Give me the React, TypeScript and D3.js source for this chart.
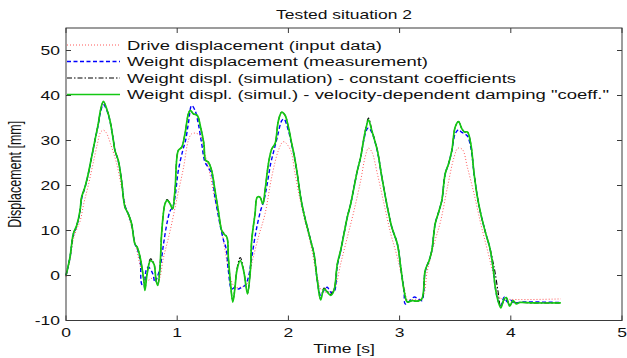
import React from "react";
import * as d3 from "d3";

const W = 627;
const H = 358;

const xTicks = [0, 1, 2, 3, 4, 5];
const yTicks = [-10, 0, 10, 20, 30, 40, 50];
const titleText = "Tested situation 2";
const xLabel = "Time [s]";
const yLabel = "Displacement [mm]";
const legendLabels = [
  "Drive displacement (input data)",
  "Weight displacement (measurement)",
  "Weight displ. (simulation) - constant coefficients",
  "Weight displ. (simul.) - velocity-dependent damping \"coeff.\"",
];

// Drive displacement (input data)
const redT = [0, 0.036, 0.066, 0.1, 0.126, 0.16, 0.2, 0.24, 0.28, 0.31, 0.335, 0.36, 0.4, 0.456, 0.5, 0.547, 0.59, 0.637, 0.68, 0.727, 0.76, 0.787, 0.83, 0.877, 0.937, 1.0, 1.057, 1.1, 1.13, 1.17, 1.21, 1.25, 1.3, 1.34, 1.39, 1.43, 1.477, 1.52, 1.57, 1.63, 1.67, 1.73, 1.79, 1.85, 1.91, 1.95, 1.97, 2.02, 2.06, 2.1, 2.14, 2.2, 2.26, 2.3, 2.38, 2.42, 2.47, 2.53, 2.59, 2.65, 2.69, 2.72, 2.75, 2.8, 2.86, 2.92, 2.98, 3.04, 3.07, 3.1, 3.2, 3.25, 3.31, 3.37, 3.43, 3.49, 3.525, 3.565, 3.61, 3.67, 3.73, 3.79, 3.85, 3.895, 3.94, 4.45];
const redV = [-0.3, 3.5, 8.0, 10.5, 12, 16, 20, 24.5, 29, 31.8, 32.3, 31.8, 29.3, 24.8, 19.6, 14.4, 10.7, 5.6, 1.1, -1.1, -0.8, -0.4, -1.1, 4, 10, 17.4, 24, 30, 31.5, 31.6, 31.0, 27, 21.9, 16.7, 11.5, 5.6, -0.4, -2.6, -2.6, -1.9, 2.6, 8.5, 13.7, 21.9, 27.8, 29.7, 29.6, 27.8, 22.6, 17.4, 13, 7, -0.4, -3.3, -3.7, -2.6, 2.6, 8.5, 14.4, 21.1, 26.3, 28.3, 27.5, 22.6, 15.9, 9.3, 4, -2.6, -5.4, -5.4, -5.0, 1.1, 7, 12.2, 19.6, 26.3, 28.3, 28.0, 24, 18.1, 11.5, 5.6, -0.4, -4.8, -5.2, -5.2];

// Weight displacement (measurement)
const blueT = [0, 0.036, 0.066, 0.096, 0.126, 0.14, 0.17, 0.2, 0.23, 0.26, 0.29, 0.31, 0.336, 0.366, 0.396, 0.426, 0.44, 0.47, 0.5, 0.53, 0.56, 0.59, 0.62, 0.64, 0.667, 0.68, 0.7, 0.72, 0.74, 0.78, 0.8, 0.82, 0.847, 0.877, 0.907, 0.937, 0.96, 0.98, 1.01, 1.05, 1.075, 1.1, 1.13, 1.16, 1.19, 1.22, 1.25, 1.28, 1.31, 1.34, 1.39, 1.417, 1.44, 1.46, 1.49, 1.52, 1.55, 1.58, 1.61, 1.64, 1.67, 1.71, 1.75, 1.78, 1.81, 1.84, 1.87, 1.9, 1.94, 1.96, 2.0, 2.03, 2.05, 2.08, 2.11, 2.14, 2.17, 2.2, 2.23, 2.26, 2.29, 2.32, 2.35, 2.38, 2.41, 2.44, 2.47, 2.5, 2.53, 2.56, 2.59, 2.62, 2.65, 2.68, 2.7, 2.72, 2.75, 2.8, 2.84, 2.89, 2.93, 2.98, 3.01, 3.04, 3.05, 3.08, 3.13, 3.17, 3.2, 3.23, 3.265, 3.29, 3.32, 3.355, 3.38, 3.41, 3.44, 3.47, 3.5, 3.53, 3.56, 3.585, 3.61, 3.64, 3.67, 3.7, 3.73, 3.775, 3.81, 3.84, 3.86, 3.885, 3.91, 3.94, 3.97, 4.0, 4.03, 4.1, 4.45];
const blueV = [0, 4, 9, 11, 14.2, 17, 19.5, 22.5, 26.2, 30, 33.5, 36.3, 38.0, 36.8, 34.2, 30, 27.8, 25.4, 21, 15.5, 13.7, 11.3, 7, 6, 3.5, -1.9, -2.5, 1.1, 1.9, 0.4, -1.5, -0.4, 1.9, 7, 11.5, 14.4, 15.2, 17.4, 23.3, 27.8, 30, 33.7, 37.8, 36.7, 33.7, 29.3, 25.2, 24, 22.5, 17.4, 10.7, 7.8, 6, 1.1, -3, -2.6, -3, -2.6, -2.2, -0.4, 4, 10, 14.4, 16.7, 20.4, 24.8, 27.8, 30.7, 34.4, 34.8, 32.2, 29, 26.8, 22.4, 17.4, 13.7, 10.7, 7.8, 4.8, -1.1, -4.4, -3.3, -2.6, -3.7, -3.7, 2.2, 5.4, 9.3, 13, 15.9, 19.6, 23.3, 26.3, 30.3, 32.2, 32.8, 31.8, 27.6, 21.9, 15.2, 10.7, 7, 1.9, -3.5, -6.3, -5.9, -4.8, -5.2, -5.6, 0.8, 3.3, 5.6, 11.5, 14.4, 16.7, 22.6, 24.8, 27.8, 31.5, 32.4, 31.8, 31.5, 31.0, 28.5, 22.6, 17.4, 13.7, 9.3, 6.3, 1.9, -2.6, -5.6, -6.7, -4.8, -5.9, -5.5, -6.1, -5.9, -6.0];

// Simulation series (shared time base)
const simT = [0, 0.036, 0.066, 0.096, 0.126, 0.14, 0.17, 0.2, 0.23, 0.26, 0.29, 0.31, 0.336, 0.366, 0.396, 0.426, 0.44, 0.47, 0.5, 0.53, 0.56, 0.59, 0.62, 0.64, 0.667, 0.7, 0.71, 0.73, 0.76, 0.79, 0.81, 0.826, 0.847, 0.86, 0.89, 0.91, 0.937, 0.958, 0.98, 1.01, 1.04, 1.07, 1.1, 1.117, 1.147, 1.18, 1.21, 1.24, 1.255, 1.28, 1.31, 1.34, 1.37, 1.4, 1.417, 1.447, 1.46, 1.477, 1.5, 1.52, 1.537, 1.567, 1.597, 1.62, 1.633, 1.658, 1.67, 1.7, 1.72, 1.745, 1.77, 1.79, 1.82, 1.85, 1.88, 1.91, 1.94, 1.97, 2.0, 2.03, 2.05, 2.08, 2.11, 2.14, 2.17, 2.2, 2.23, 2.26, 2.29, 2.32, 2.35, 2.38, 2.41, 2.44, 2.47, 2.5, 2.53, 2.56, 2.59, 2.62, 2.65, 2.68, 2.7, 2.72, 2.75, 2.8, 2.84, 2.89, 2.93, 2.98, 3.01, 3.04, 3.07, 3.11, 3.16, 3.2, 3.23, 3.265, 3.29, 3.32, 3.355, 3.38, 3.41, 3.44, 3.47, 3.5, 3.53, 3.56, 3.585, 3.61, 3.64, 3.67, 3.7, 3.73, 3.775, 3.81, 3.84, 3.86, 3.885, 3.91, 3.94, 3.96, 3.99, 4.02, 4.05, 4.08, 4.2, 4.45];
// Weight displ. (simulation) - constant coefficients
const blackV = [0, 4.1, 9.3, 11.1, 14.4, 17.4, 19.6, 22.6, 26.3, 30, 33.7, 36.7, 38.6, 37, 34.4, 30, 27.8, 25.6, 21, 15.2, 13.7, 11.5, 7, 6.3, 4, -1.1, -3.0, 0.6, 3.7, 2.8, -1.0, -2.0, 2.6, 9.3, 15.9, 16.9, 15.9, 14.8, 18.9, 27.8, 28.5, 31.5, 35.9, 36.7, 35.9, 35.6, 33, 29.3, 25.6, 25.2, 23.3, 18.9, 14.4, 10, 9.5, 8.5, 4, -1.1, -5.6, -2.4, 1.4, 4.0, 1.3, -2.4, -3.9, 1.1, 7.8, 13.7, 17.4, 17.4, 15.9, 18.9, 24.8, 28.1, 29.3, 34.4, 36.3, 35.6, 33, 29.3, 27, 22.6, 17.4, 13.7, 10.7, 7.8, 4.8, -1.1, -5.2, -2.8, -3.5, -4.2, -3.1, 2.6, 5.6, 9.3, 13, 15.9, 19.6, 23.3, 26.3, 30.7, 33.2, 35.0, 32.4, 27.8, 21.9, 15.2, 10.7, 7, 1.9, -3.3, -5.9, -5.6, -5.7, -5.2, 1.1, 3.3, 5.6, 11.5, 14.4, 16.7, 22.6, 24.8, 27.8, 33, 34.2, 32.6, 31.9, 31.9, 29.3, 22.6, 17.4, 13.7, 9.3, 6.3, 3.0, 0.5, -3.5, -7.0, -5.4, -5.0, -6.6, -5.7, -6.2, -6.0, -6.1, -6.1];
// Weight displ. (simul.) - velocity-dependent damping "coeff."
const greenV = [0, 4.1, 9.3, 11.1, 14.4, 17.4, 19.6, 22.6, 26.3, 30, 33.7, 36.7, 38.7, 37, 34.4, 30, 27.8, 25.6, 21, 15.2, 13.7, 11.5, 7, 6.3, 4, -1.1, -3.3, 0.4, 3.3, 2.6, -1.1, -2.2, 2.6, 9.3, 15.9, 16.7, 15.9, 14.8, 18.9, 27.8, 28.5, 31.5, 35.9, 36.7, 35.9, 35.6, 33, 29.3, 25.6, 25.2, 23.3, 18.9, 14.4, 10, 9.3, 8.5, 4, -1.1, -5.9, -2.6, 1.1, 3.3, 1.1, -2.6, -4.1, 1.1, 7.8, 13.7, 17.4, 17.4, 15.9, 18.9, 24.8, 28.1, 29.3, 34.4, 36.3, 35.6, 33, 29.3, 27, 22.6, 17.4, 13.7, 10.7, 7.8, 4.8, -1.1, -5.4, -3, -3.7, -4.4, -3.3, 2.6, 5.6, 9.3, 13, 15.9, 19.6, 23.3, 26.3, 30.7, 33, 34.6, 32.2, 27.8, 21.9, 15.2, 10.7, 7, 1.9, -3.3, -5.9, -5.6, -5.7, -5.2, 1.1, 3.3, 5.6, 11.5, 14.4, 16.7, 22.6, 24.8, 27.8, 33, 34.2, 32.6, 31.9, 31.9, 29.3, 22.6, 17.4, 13.7, 9.3, 6.3, 1.9, -2.6, -5.6, -7.2, -5.2, -4.9, -6.8, -5.6, -6.3, -6.0, -6.1, -6.1];

const FONT = "'Liberation Sans', Arial, Helvetica, sans-serif";
const SX = 1.4;

export default function App() {
  const x = d3.scaleLinear().domain([0, 5]).range([66, 622]);
  const y = d3.scaleLinear().domain([-10, 55]).range([320.5, 28]);

  const mk = (ts: number[], vs: number[]) => {
    const pts: [number, number][] = ts.map((t, i) => [t, vs[i]]);
    return d3
      .line<[number, number]>()
      .x((d) => x(d[0]))
      .y((d) => y(d[1]))
      .curve(d3.curveCatmullRom.alpha(0.5))(pts) as string;
  };

  const series = [
    { d: mk(redT, redV), color: "#ff3030", dash: "1,2", w: 1, op: 0.8 },
    { d: mk(blueT, blueV), color: "#0000ff", dash: "4,2.5", w: 1.4, op: 1 },
    { d: mk(simT, blackV), color: "#000000", dash: "5,2,1.5,2", w: 1.1, op: 1 },
    { d: mk(simT, greenV), color: "#14c814", dash: "", w: 1.7, op: 1 },
  ];

  const x0 = x(0), x1 = x(5), yTop = y(55), yBot = y(-10);
  const axisColor = "#3a3a3a";
  const legendY = [45, 61.5, 78, 94.5];
  const legendW = [255, 301, 389, 482];

  return (
    <svg width={W} height={H} style={{ position: "absolute", left: 0, top: 0, background: "#fff" }}>
      <rect x={0} y={0} width={W} height={H} fill="#fff" />
      {/* series */}
      <g fill="none">
        {series.map((s, i) => (
          <path key={i} d={s.d} stroke={s.color} strokeWidth={s.w} strokeDasharray={s.dash || undefined} opacity={s.op} strokeLinejoin="round" />
        ))}
      </g>
      {/* box */}
      <rect x={x0} y={yTop} width={x1 - x0} height={yBot - yTop} fill="none" stroke={axisColor} strokeWidth={1} />
      {xTicks.map((t) => (
        <g key={"xt" + t}>
          <line x1={x(t)} x2={x(t)} y1={yBot} y2={yBot - 5} stroke={axisColor} />
          <line x1={x(t)} x2={x(t)} y1={yTop} y2={yTop + 5} stroke={axisColor} />
          <g transform={`translate(${x(t)},${yBot + 16}) scale(${SX},1)`}>
            <text textAnchor="middle" fontFamily={FONT} fontSize={12.5} fill="#111">{t}</text>
          </g>
        </g>
      ))}
      {yTicks.map((t) => (
        <g key={"yt" + t}>
          <line x1={x0} x2={x0 + 5} y1={y(t)} y2={y(t)} stroke={axisColor} />
          <line x1={x1} x2={x1 - 5} y1={y(t)} y2={y(t)} stroke={axisColor} />
          <g transform={`translate(${x0 - 6},${y(t) + 4.5}) scale(${SX},1)`}>
            <text textAnchor="end" fontFamily={FONT} fontSize={12.5} fill="#111">{t}</text>
          </g>
        </g>
      ))}
      {/* title and axis labels */}
      <g transform={`translate(${(x0 + x1) / 2},${19}) scale(${SX},1)`}>
        <text textAnchor="middle" fontFamily={FONT} fontSize={12.5} fill="#111">{titleText}</text>
      </g>
      <g transform={`translate(${(x0 + x1) / 2},${353}) scale(${SX},1)`}>
        <text textAnchor="middle" fontFamily={FONT} fontSize={12.5} fill="#111">{xLabel}</text>
      </g>
      <g transform={`translate(${21},${(yTop + yBot) / 2}) scale(${SX},1) rotate(-90)`}>
        <text textAnchor="middle" fontFamily={FONT} fontSize={12.5} fill="#111">{yLabel}</text>
      </g>
      {/* legend */}
      {legendLabels.map((lab, i) => {
        const s = series[i];
        return (
          <g key={"lg" + i}>
            <line x1={x0 + 1} x2={120} y1={legendY[i]} y2={legendY[i]} stroke={s.color} strokeWidth={s.w} strokeDasharray={s.dash || undefined} opacity={s.op} />
            <text x={127} y={legendY[i] + 4.5} fontFamily={FONT} fontSize={12.5} fill="#111" textLength={legendW[i]} lengthAdjust="spacingAndGlyphs">{lab}</text>
          </g>
        );
      })}
    </svg>
  );
}
